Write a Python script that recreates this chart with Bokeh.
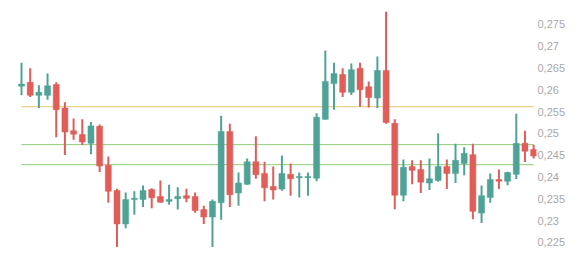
from bokeh.plotting import figure
from bokeh.models import ColumnDataSource, FixedTicker, CustomJSTickFormatter, Range1d
from bokeh.embed import file_html
from bokeh.resources import INLINE

opens = [0.2608, 0.2617, 0.2587, 0.2587, 0.2612, 0.2558, 0.2506, 0.2497, 0.2477, 0.2516,
         0.2427, 0.2369, 0.2292, 0.2348, 0.2348, 0.2371, 0.2355, 0.2344, 0.2350, 0.2357,
         0.2355, 0.2325, 0.2308, 0.2341, 0.2504, 0.2363, 0.2383, 0.2435, 0.2408, 0.2378,
         0.2372, 0.2406, 0.2398, 0.2398, 0.2397, 0.2532, 0.2614, 0.2635, 0.2594, 0.2649,
         0.2607, 0.2581, 0.2644, 0.2523, 0.2358, 0.2424, 0.2417, 0.2386, 0.2392, 0.2424,
         0.2408, 0.2431, 0.2451, 0.2317, 0.2353, 0.2394, 0.2390, 0.2406, 0.2477, 0.2463]
highs = [0.2662, 0.2649, 0.2610, 0.2637, 0.2617, 0.2571, 0.2534, 0.2532, 0.2526, 0.2520,
         0.2447, 0.2373, 0.2364, 0.2367, 0.2380, 0.2374, 0.2392, 0.2382, 0.2376, 0.2373,
         0.2364, 0.2334, 0.2348, 0.2540, 0.2522, 0.2410, 0.2442, 0.2493, 0.2435, 0.2424,
         0.2449, 0.2431, 0.2410, 0.2410, 0.2546, 0.2690, 0.2662, 0.2649, 0.2660, 0.2662,
         0.2619, 0.2676, 0.2779, 0.2532, 0.2440, 0.2438, 0.2438, 0.2442, 0.2500, 0.2440,
         0.2476, 0.2468, 0.2476, 0.2380, 0.2408, 0.2417, 0.2412, 0.2545, 0.2506, 0.2474]
lows = [0.2587, 0.2583, 0.2558, 0.2577, 0.2491, 0.2450, 0.2485, 0.2473, 0.2452, 0.2411,
        0.2341, 0.2239, 0.2282, 0.2313, 0.2331, 0.2328, 0.2341, 0.2336, 0.2325, 0.2342,
        0.2318, 0.2292, 0.2239, 0.2302, 0.2331, 0.2334, 0.2382, 0.2396, 0.2344, 0.2348,
        0.2368, 0.2357, 0.2353, 0.2357, 0.2390, 0.2531, 0.2554, 0.2583, 0.2588, 0.2561,
        0.2559, 0.2558, 0.2522, 0.2326, 0.2344, 0.2383, 0.2363, 0.2370, 0.2389, 0.2372,
        0.2386, 0.2404, 0.2303, 0.2294, 0.2341, 0.2372, 0.2381, 0.2395, 0.2434, 0.2442]
closes = [0.2613, 0.2587, 0.2594, 0.2609, 0.2554, 0.2503, 0.2498, 0.2480, 0.2517, 0.2425,
          0.2367, 0.2292, 0.2348, 0.2351, 0.2369, 0.2352, 0.2342, 0.2348, 0.2355, 0.2351,
          0.2323, 0.2308, 0.2344, 0.2504, 0.2359, 0.2386, 0.2435, 0.2405, 0.2375, 0.2370,
          0.2408, 0.2396, 0.2401, 0.2401, 0.2537, 0.2619, 0.2637, 0.2594, 0.2646, 0.2600,
          0.2582, 0.2644, 0.2525, 0.2358, 0.2422, 0.2415, 0.2388, 0.2396, 0.2424, 0.2408,
          0.2438, 0.2454, 0.2321, 0.2357, 0.2394, 0.2390, 0.2410, 0.2477, 0.2459, 0.2448]

levels = [0.2561, 0.2474, 0.2428]
level_colors = ["#e8c76b", "#8dcd78", "#8dcd78"]
y_ticks = [0.225, 0.23, 0.235, 0.24, 0.245, 0.25, 0.255, 0.26, 0.265, 0.27, 0.275]

UP = "#4fa396"
DOWN = "#e05d58"

n = len(opens)
xs = list(range(n))
colors = [UP if c >= o else DOWN for o, c in zip(opens, closes)]
tops = [max(o, c) for o, c in zip(opens, closes)]
bottoms = [min(o, c) for o, c in zip(opens, closes)]

src = ColumnDataSource(dict(x=xs, high=highs, low=lows, top=tops, bottom=bottoms, color=colors))

p = figure(width=584, height=258, output_backend="svg", toolbar_location=None,
           x_axis_location=None, y_axis_location="right",
           min_border_left=0, min_border_top=0, min_border_bottom=0, min_border_right=48,
           x_range=Range1d(-2.42, 59.33), y_range=Range1d(0.221285, 0.280459))
p.outline_line_color = None
p.xgrid.visible = False
p.ygrid.visible = False
p.background_fill_color = "white"
p.border_fill_color = "white"

for lv, lc in zip(levels, level_colors):
    p.segment(x0=[xs[0]], x1=[xs[-1]], y0=[lv], y1=[lv], line_color=lc, line_width=1)

p.segment(x0="x", x1="x", y0="low", y1="high", source=src, line_color="color", line_width=2)
p.vbar(x="x", width=0.69, top="top", bottom="bottom", source=src,
       fill_color="color", line_color="color", line_width=0.5)

ax = p.yaxis[0]
ax.ticker = FixedTicker(ticks=y_ticks)
ax.formatter = CustomJSTickFormatter(code="return tick.toFixed(3).replace(/0+$/, '').replace('.', ',');")
ax.axis_line_color = None
ax.major_tick_line_color = None
ax.minor_tick_line_color = None
ax.major_tick_out = 0
ax.major_tick_in = 0
ax.major_label_standoff = 1
ax.major_label_text_font = "Liberation Sans"
ax.major_label_text_font_size = "11px"
ax.major_label_text_color = "#a8a8a8"

open("out.html", "w").write(file_html(p, INLINE))
